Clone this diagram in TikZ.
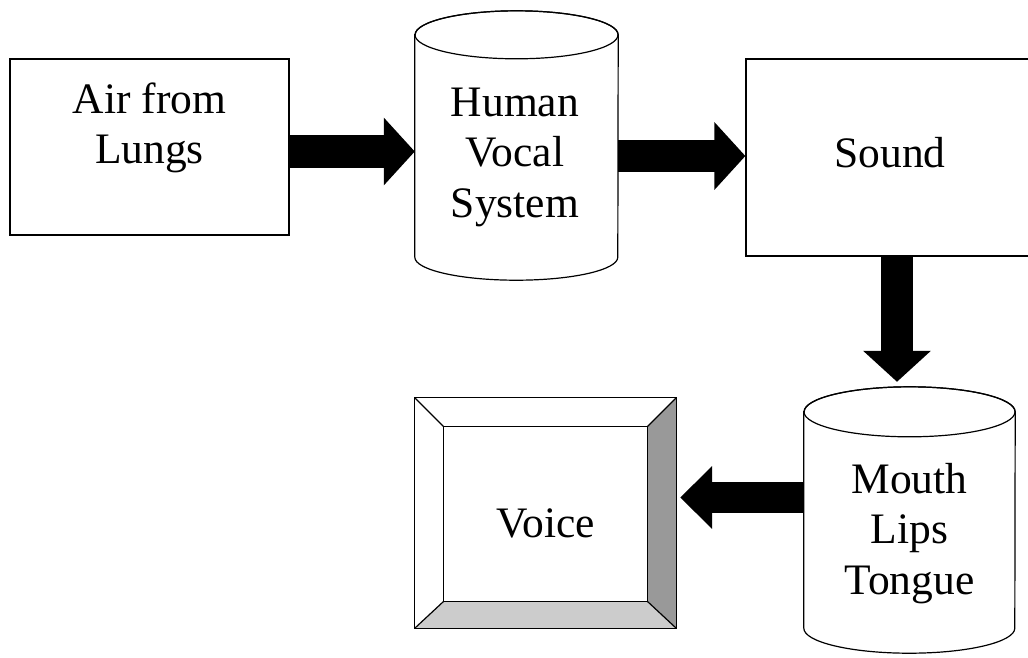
\documentclass[tikz,border=0pt]{standalone}
\usepackage{fontspec}
\setmainfont{Liberation Serif}
\usetikzlibrary{arrows.meta}
\begin{document}
\begin{tikzpicture}[x=1pt,y=-1pt,
  block/.style={draw, line width=1.2pt, fill=white, inner sep=0pt},
  txt/.style={inner sep=0pt, anchor=base, font=\fontsize{43.5pt}{50.5pt}\selectfont},
  outline/.style={line width=1.2pt},
  blockarrow/.style={line width=#1, -{Triangle[length=31pt,width=66pt]}},
  blockarrow/.default=33pt,
]
\clip (0,0) rectangle (1028,657);

% rectangular blocks (the right one runs past the page edge)
\node[block, minimum width=279pt, minimum height=176pt] (lungs) at (149.5,147) {};
\node[block, minimum width=340pt, minimum height=197pt] (sound) at (916,157.5) {};

% cylinder bodies (node spans the centres of the two end ellipses)
\node[inner sep=0pt, minimum width=203pt, minimum height=222pt] (hvs) at (516.5,146) {};
\draw[outline, fill=white] (hvs.north west) -- (hvs.south west)
  arc[start angle=180, end angle=360, x radius=101.5pt, y radius=23pt]
  -- (hvs.north east)
  arc[start angle=0, end angle=180, x radius=101.5pt, y radius=24pt] -- cycle;
\draw[outline] (hvs.north) ellipse[x radius=101.5pt, y radius=24pt];

\node[inner sep=0pt, minimum width=211pt, minimum height=216pt] (mlt) at (909.5,520) {};
\draw[outline, fill=white] (mlt.north west) -- (mlt.south west)
  arc[start angle=180, end angle=360, x radius=105.5pt, y radius=25pt]
  -- (mlt.north east)
  arc[start angle=0, end angle=180, x radius=105.5pt, y radius=25pt] -- cycle;
\draw[outline] (mlt.north) ellipse[x radius=105.5pt, y radius=25pt];

% bevelled button
\node[inner sep=0pt, minimum width=261pt, minimum height=230pt] (voice) at (545.5,513) {};
\coordinate (vNE) at ([xshift=-29pt,yshift=-29pt]voice.north east);
\coordinate (vNW) at ([xshift=29pt,yshift=-29pt]voice.north west);
\coordinate (vSE) at ([xshift=-29pt,yshift=27pt]voice.south east);
\coordinate (vSW) at ([xshift=29pt,yshift=27pt]voice.south west);
\fill[white] (voice.north west) rectangle (voice.south east);
\fill[black!40] (voice.north east) -- (voice.south east) -- (vSE) -- (vNE) -- cycle;
\fill[black!20] (voice.south west) -- (voice.south east) -- (vSE) -- (vSW) -- cycle;
\draw[outline] (voice.north west) rectangle (voice.south east);
\draw[outline] (vNW) rectangle (vSE);
\draw[outline] (voice.north west) -- (vNW) (voice.north east) -- (vNE)
  (voice.south east) -- (vSE) (voice.south west) -- (vSW);

% labels
\node[txt] (lungs-t) at (149.5,113) {\begin{tabular}[t]{@{}c@{}}Air from\\Lungs\end{tabular}};
\node[txt] (hvs-t) at (515,116) {\begin{tabular}[t]{@{}c@{}}Human\\Vocal\\System\end{tabular}};
\node[txt] (sound-t) at (890,167) {Sound};
\node[txt] (mlt-t) at (909.5,493) {\begin{tabular}[t]{@{}c@{}}Mouth\\Lips\\Tongue\end{tabular}};
\node[txt] (voice-t) at (546,537) {Voice};

% block arrows
\draw[blockarrow] (lungs.east |- 0,151.5) -- (hvs.west |- 0,151.5);
\draw[blockarrow=32pt] (hvs.east |- 0,156) -- (sound.west |- 0,156);
\draw[blockarrow=32pt] (sound.south -| 897,0) -- ([yshift=30pt]mlt.north -| 897,0);
\draw[line width=31pt, -{Triangle[length=32pt,width=61pt]}, shorten >=4pt]
  (mlt.west |- 0,497.5) -- (voice.east |- 0,497.5);
\end{tikzpicture}
\end{document}
